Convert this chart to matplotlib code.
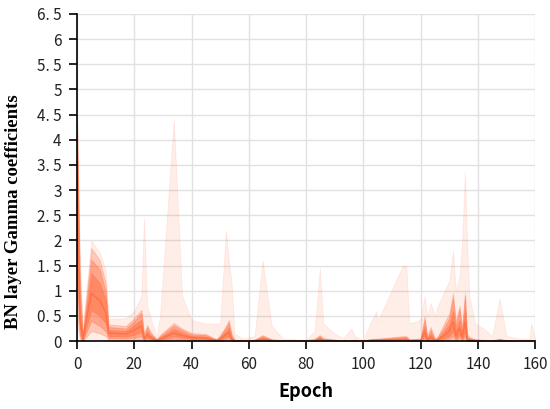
import matplotlib
matplotlib.use("Agg")
import matplotlib.pyplot as plt
from matplotlib.ticker import FuncFormatter, MultipleLocator

epochs = [0, 1, 2, 5, 8, 10, 11, 17, 20, 22.5,
          23.4, 24.5, 25.5, 27.8, 29, 33.8, 36.7, 40, 45, 48.7,
          50, 52, 53, 54, 55, 58, 62, 64.8, 68, 72,
          80, 83, 84.8, 86, 90, 93, 95.8, 97, 100, 102,
          104.5, 105, 107, 113.8, 115, 116, 119, 120, 121.4, 122.3,
          123.5, 125, 126, 128, 130, 131.3, 132.3, 133.6, 134.5, 135.5,
          136.2, 137, 139, 142, 145, 147.6, 150, 155, 158, 158.6,
          160]

# percentiles of the BN gamma values (max, 93, 84, 69, 50, 31, 16, 7, min)
q_max = [4.6, 1.6, 0.3, 2.0, 1.75, 1.4, 0.45, 0.45, 0.6, 0.9,
         2.45, 0.7, 0.5, 0.1, 0.5, 4.4, 0.9, 0.42, 0.35, 0.35,
         0.35, 2.2, 1.6, 1.15, 0.15, 0.05, 0.1, 1.6, 0.3, 0.05,
         0.03, 0.2, 1.45, 0.35, 0.15, 0.05, 0.25, 0.1, 0.02, 0.3,
         0.6, 0.4, 0.65, 1.5, 1.5, 0.35, 0.4, 0.45, 0.9, 0.5,
         0.75, 0.5, 0.7, 0.95, 1.2, 1.8, 1.0, 1.3, 2.0, 3.35,
         2.0, 0.9, 0.35, 0.25, 0.1, 0.85, 0.1, 0.05, 0.05, 0.35,
         0.05]
q93 = [4.5, 1.3, 0.15, 1.85, 1.6, 1.15, 0.33, 0.3, 0.46, 0.62,
       0.15, 0.32, 0.2, 0.04, 0.12, 0.36, 0.25, 0.16, 0.14, 0.04,
       0.12, 0.3, 0.42, 0.15, 0.03, 0.02, 0.03, 0.12, 0.04, 0.02,
       0.02, 0.05, 0.12, 0.06, 0.03, 0.02, 0.02, 0.03, 0.01, 0.04,
       0.05, 0.05, 0.06, 0.1, 0.1, 0.04, 0.05, 0.05, 0.5, 0.1,
       0.28, 0.05, 0.1, 0.32, 0.55, 0.95, 0.4, 0.7, 0.3, 0.95,
       0.15, 0.08, 0.04, 0.03, 0.02, 0.05, 0.02, 0.01, 0.01, 0.02,
       0.01]
q84 = [4.3, 1.0, 0.1, 1.62, 1.42, 0.98, 0.28, 0.25, 0.4, 0.56,
       0.1, 0.28, 0.16, 0.03, 0.1, 0.31, 0.22, 0.13, 0.12, 0.03,
       0.1, 0.27, 0.37, 0.1, 0.02, 0.01, 0.02, 0.1, 0.03, 0.01,
       0.01, 0.03, 0.1, 0.04, 0.02, 0.01, 0.01, 0.02, 0.01, 0.03,
       0.04, 0.04, 0.05, 0.08, 0.08, 0.03, 0.04, 0.04, 0.42, 0.06,
       0.22, 0.03, 0.08, 0.25, 0.45, 0.85, 0.3, 0.63, 0.2, 0.9,
       0.1, 0.06, 0.03, 0.02, 0.01, 0.04, 0.01, 0.01, 0.01, 0.01,
       0.01]
q69 = [3.8, 0.7, 0.06, 1.35, 1.15, 0.82, 0.22, 0.2, 0.32, 0.42,
       0.07, 0.2, 0.12, 0.02, 0.07, 0.24, 0.17, 0.1, 0.09, 0.02,
       0.07, 0.2, 0.27, 0.07, 0.01, 0.01, 0.01, 0.07, 0.02, 0.01,
       0.01, 0.02, 0.07, 0.03, 0.01, 0.01, 0.01, 0.01, 0.0, 0.02,
       0.03, 0.03, 0.04, 0.06, 0.06, 0.02, 0.02, 0.02, 0.3, 0.04,
       0.15, 0.02, 0.05, 0.18, 0.33, 0.6, 0.2, 0.42, 0.14, 0.62,
       0.06, 0.04, 0.02, 0.01, 0.01, 0.03, 0.01, 0.0, 0.0, 0.01,
       0.0]
q50 = [3.0, 0.45, 0.03, 0.95, 0.8, 0.58, 0.16, 0.14, 0.22, 0.3,
       0.05, 0.13, 0.08, 0.01, 0.04, 0.16, 0.11, 0.07, 0.06, 0.01,
       0.04, 0.13, 0.17, 0.04, 0.01, 0.0, 0.01, 0.04, 0.01, 0.0,
       0.0, 0.01, 0.04, 0.02, 0.01, 0.0, 0.0, 0.01, 0.0, 0.01,
       0.02, 0.02, 0.02, 0.03, 0.03, 0.01, 0.01, 0.01, 0.18, 0.02,
       0.08, 0.01, 0.03, 0.1, 0.2, 0.38, 0.1, 0.26, 0.08, 0.38,
       0.03, 0.02, 0.01, 0.0, 0.0, 0.01, 0.0, 0.0, 0.0, 0.0,
       0.0]
q31 = [2.0, 0.25, 0.02, 0.62, 0.5, 0.36, 0.1, 0.09, 0.13, 0.18,
       0.03, 0.08, 0.05, 0.0, 0.02, 0.1, 0.07, 0.04, 0.04, 0.0,
       0.02, 0.08, 0.1, 0.02, 0.0, 0.0, 0.0, 0.02, 0.0, 0.0,
       0.0, 0.0, 0.02, 0.01, 0.0, 0.0, 0.0, 0.0, 0.0, 0.0,
       0.01, 0.01, 0.01, 0.02, 0.02, 0.0, 0.0, 0.0, 0.1, 0.01,
       0.04, 0.0, 0.01, 0.05, 0.1, 0.2, 0.05, 0.14, 0.04, 0.2,
       0.01, 0.01, 0.0, 0.0, 0.0, 0.0, 0.0, 0.0, 0.0, 0.0,
       0.0]
q16 = [1.2, 0.12, 0.01, 0.4, 0.3, 0.2, 0.06, 0.05, 0.07, 0.1,
       0.01, 0.04, 0.02, 0.0, 0.01, 0.05, 0.03, 0.02, 0.02, 0.0,
       0.01, 0.04, 0.05, 0.01, 0.0, 0.0, 0.0, 0.01, 0.0, 0.0,
       0.0, 0.0, 0.0, 0.0, 0.0, 0.0, 0.0, 0.0, 0.0, 0.0,
       0.0, 0.0, 0.0, 0.01, 0.01, 0.0, 0.0, 0.0, 0.05, 0.0,
       0.02, 0.0, 0.0, 0.02, 0.05, 0.1, 0.02, 0.07, 0.02, 0.1,
       0.0, 0.0, 0.0, 0.0, 0.0, 0.0, 0.0, 0.0, 0.0, 0.0,
       0.0]
q07 = [0.6, 0.05, 0.0, 0.2, 0.15, 0.1, 0.03, 0.02, 0.03, 0.04,
       0.0, 0.01, 0.0, 0.0, 0.0, 0.02, 0.01, 0.0, 0.0, 0.0,
       0.0, 0.01, 0.02, 0.0, 0.0, 0.0, 0.0, 0.0, 0.0, 0.0,
       0.0, 0.0, 0.0, 0.0, 0.0, 0.0, 0.0, 0.0, 0.0, 0.0,
       0.0, 0.0, 0.0, 0.0, 0.0, 0.0, 0.0, 0.0, 0.02, 0.0,
       0.0, 0.0, 0.0, 0.0, 0.02, 0.04, 0.0, 0.02, 0.0, 0.04,
       0.0, 0.0, 0.0, 0.0, 0.0, 0.0, 0.0, 0.0, 0.0, 0.0,
       0.0]
q_min = [0.3, 0.02, 0.0, 0.05, 0.04, 0.02, 0.0, 0.0, 0.0, 0.0,
         0.0, 0.0, 0.0, 0.0, 0.0, 0.0, 0.0, 0.0, 0.0, 0.0,
         0.0, 0.0, 0.0, 0.0, 0.0, 0.0, 0.0, 0.0, 0.0, 0.0,
         0.0, 0.0, 0.0, 0.0, 0.0, 0.0, 0.0, 0.0, 0.0, 0.0,
         0.0, 0.0, 0.0, 0.0, 0.0, 0.0, 0.0, 0.0, 0.0, 0.0,
         0.0, 0.0, 0.0, 0.0, 0.0, 0.0, 0.0, 0.0, 0.0, 0.0,
         0.0, 0.0, 0.0, 0.0, 0.0, 0.0, 0.0, 0.0, 0.0, 0.0,
         0.0]

color = '#ff7043'
bands = [(q_min, q_max, 0.12), (q07, q93, 0.3), (q16, q84, 0.4), (q31, q69, 0.5)]

fig = plt.figure(figsize=(5.5, 4.09), dpi=100)
ax = fig.add_axes([0.14, 0.166, 0.833, 0.8])

for lo, hi, a in bands:
    ax.fill_between(epochs, lo, hi, color=color, alpha=a, lw=0.6)
ax.plot(epochs, q50, color=color, lw=1.0)

ax.set_xlim(0, 160)
ax.set_ylim(0, 6.5)
ax.xaxis.set_major_locator(MultipleLocator(20))
ax.yaxis.set_major_locator(MultipleLocator(0.5))
# the original labels put a space after the decimal point
ax.yaxis.set_major_formatter(FuncFormatter(lambda v, p: ('%g' % v).replace('.', '. ')))

ax.grid(True, color='#e1e1e1', lw=1.0)
ax.set_axisbelow(True)
for s in ['top', 'right']:
    ax.spines[s].set_visible(False)
for s in ['left', 'bottom']:
    ax.spines[s].set_linewidth(1.2)
ax.tick_params(direction='out', length=6, width=1.2, labelsize=11, pad=5, labelcolor='#222222')
for lab in ax.get_xticklabels() + ax.get_yticklabels():
    lab.set_family('Noto Sans CJK SC')

ax.set_xlabel('Epoch', family='Noto Sans CJK SC', fontweight='bold', fontsize=13)
ax.xaxis.set_label_coords(0.5, -0.125)
ax.set_ylabel('BN layer Gamma coefficients', family='Liberation Serif', fontweight='bold',
              fontsize=13.5)
ax.yaxis.set_label_coords(-0.12, 0.395)

fig.savefig('out.png', dpi=100)
